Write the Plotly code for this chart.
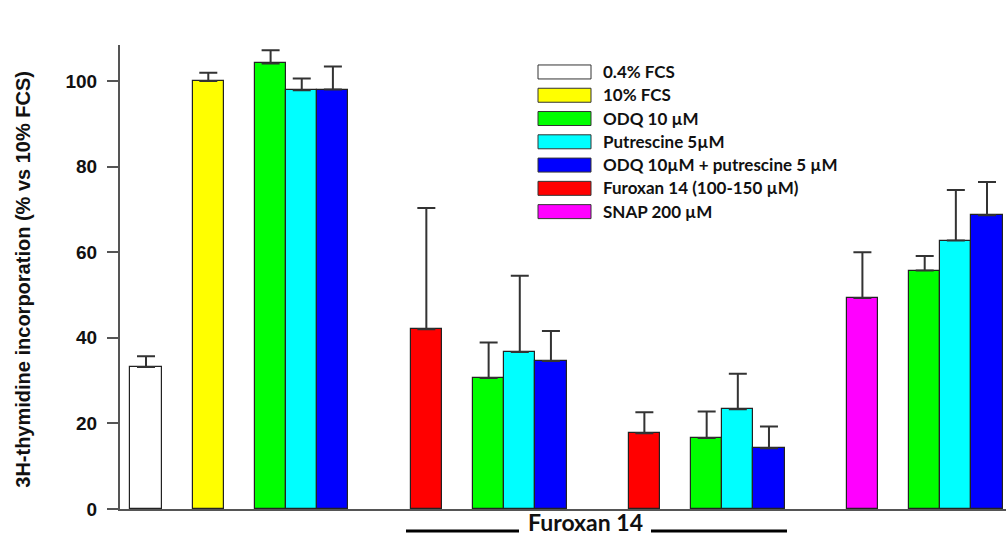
import plotly.graph_objects as go

# ---- data ----
names = ["0.4% FCS", "10% FCS", "ODQ 10 µM", "Putrescine 5µM",
         "ODQ 10µM + putrescine 5 µM", "Furoxan 14 (100-150 µM)", "SNAP 200 µM"]
colors = ["#ffffff", "#ffff00", "#00ff00", "#00ffff", "#0000ff", "#ff0000", "#ff00ff"]

pos_fcs04 = [0]
val_fcs04 = [33.2]
err_fcs04 = [2.5]

pos_fcs10 = [2]
val_fcs10 = [100.0]
err_fcs10 = [1.9]

pos_odq = [4, 11, 18, 25]
val_odq = [104.1, 30.6, 16.6, 55.7]
err_odq = [3.1, 8.3, 6.2, 3.4]

pos_put = [5, 12, 19, 26]
val_put = [97.8, 36.7, 23.3, 62.7]
err_put = [2.8, 17.8, 8.3, 11.8]

pos_odqput = [6, 13, 20, 27]
val_odqput = [98.0, 34.6, 14.2, 68.6]
err_odqput = [5.4, 7.0, 5.1, 7.8]

pos_fur = [9, 16]
val_fur = [42.0, 17.7]
err_fur = [28.3, 4.9]

pos_snap = [23]
val_snap = [49.3]
err_snap = [10.7]

yticks = [0, 20, 40, 60, 80, 100]
group_label = "Furoxan 14"
y_title = "3H-thymidine incorporation (% vs 10% FCS)"

series = [
    (pos_fcs04, val_fcs04, err_fcs04),
    (pos_fcs10, val_fcs10, err_fcs10),
    (pos_odq, val_odq, err_odq),
    (pos_put, val_put, err_put),
    (pos_odqput, val_odqput, err_odqput),
    (pos_fur, val_fur, err_fur),
    (pos_snap, val_snap, err_snap),
]

fig = go.Figure()
for (p, v, e), n, c in zip(series, names, colors):
    fig.add_trace(go.Bar(
        x=p, y=v, name=n, width=1.0,
        marker=dict(color=c, line=dict(color="#222222", width=1.2)),
        error_y=dict(type="data", array=e, symmetric=False, arrayminus=[0] * len(e),
                     color="#333333", thickness=2, width=9),
        showlegend=False,
    ))

# ---- manual legend (wide swatches like the original) ----
L, R = 120, 1006
T, B = 45, 509.5
W, H = R - L, B - T
def px(x):
    return (x - L) / W
def py(y):
    return (B - y) / H

shapes = []
annotations = []
for i, (n, c) in enumerate(zip(names, colors)):
    top = 65 + i * 23.3
    shapes.append(dict(type="rect", xref="paper", yref="paper",
                       x0=px(538), x1=px(591), y0=py(top + 14), y1=py(top),
                       fillcolor=c, line=dict(color="#333333", width=1)))
    annotations.append(dict(xref="paper", yref="paper", x=px(601), y=py(top + 6.5),
                            text=n, showarrow=False, xanchor="left", yanchor="middle",
                            font=dict(family="Lato", size=17, color="#111111", weight="bold")))

# group label under the Furoxan bars
annotations.append(dict(xref="paper", yref="paper", x=px(585), y=py(538.5),
                        text=group_label, showarrow=False, xanchor="center", yanchor="bottom",
                        font=dict(family="Lato", size=23, color="#111111", weight="bold")))
for x0, x1 in [(406, 519), (651, 787)]:
    shapes.append(dict(type="line", xref="paper", yref="paper",
                       x0=px(x0), x1=px(x1), y0=py(531.5), y1=py(531.5),
                       line=dict(color="#000000", width=3)))

# y title
annotations.append(dict(xref="paper", yref="paper", x=px(23), y=py(280),
                        text=y_title, textangle=-90, showarrow=False,
                        xanchor="center", yanchor="middle",
                        font=dict(family="Liberation Sans", size=20, color="#111111", weight="bold")))

fig.update_layout(
    width=1006, height=539,
    margin=dict(l=L, r=1006 - R, t=T, b=539 - B),
    paper_bgcolor="white", plot_bgcolor="white",
    shapes=shapes, annotations=annotations,
    bargap=0,
)
fig.update_xaxes(range=[-0.835, 27.61], showticklabels=False, ticks="",
                 showgrid=False, zeroline=False, showline=True,
                 linecolor="#555555", linewidth=2)
fig.update_yaxes(range=[0, 108.4], tickvals=yticks, ticks="outside", ticklen=11,
                 tickwidth=2, tickcolor="#555555", showgrid=False, zeroline=False,
                 showline=True, linecolor="#555555", linewidth=2,
                 ticklabelstandoff=6,
                 tickfont=dict(family="Liberation Sans", size=19, color="#111111", weight="bold"))

fig.write_html("out.html")
